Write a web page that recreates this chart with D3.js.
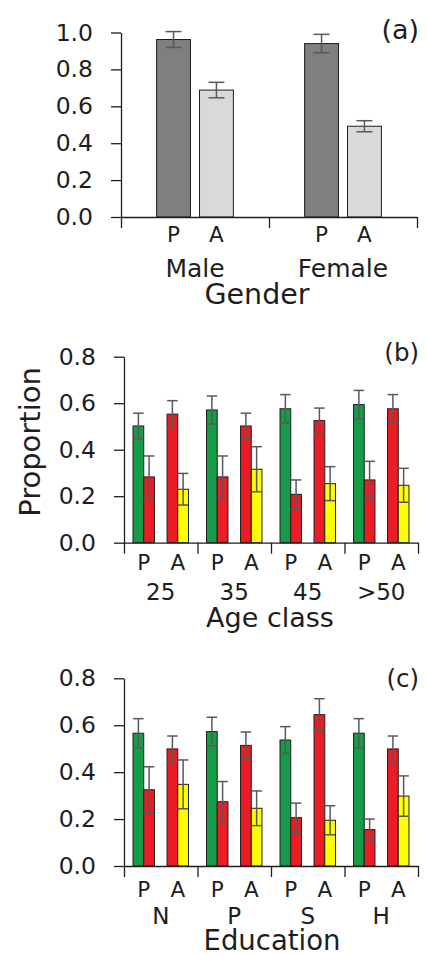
<!DOCTYPE html>
<html>
<head>
<meta charset="utf-8">
<script src="https://cdn.jsdelivr.net/npm/d3@7"></script>
<style>
  body { margin: 0; background: #fff; }
  svg { display: block; font-family: 'DejaVu Sans', sans-serif; }
</style>
</head>
<body>
<div id="chart"></div>
<script>
// (a) gender
const genderCats = ['Male', 'Female'];
const genderP = [0.962, 0.940];
const genderPErr = [0.043, 0.050];
const genderA = [0.688, 0.492];
const genderAErr = [0.042, 0.030];

// (b) age class
const ageCats = ['25', '35', '45', '>50'];
const ageGreenP = [0.502, 0.571, 0.576, 0.594];
const ageGreenPErr = [0.055, 0.060, 0.061, 0.061];
const ageRedP = [0.283, 0.283, 0.208, 0.270];
const ageRedPErr = [0.090, 0.090, 0.062, 0.080];
const ageRedA = [0.553, 0.502, 0.525, 0.576];
const ageRedAErr = [0.058, 0.055, 0.054, 0.061];
const ageYellowA = [0.230, 0.316, 0.254, 0.247];
const ageYellowAErr = [0.068, 0.097, 0.073, 0.073];

// (c) education
const eduCats = ['N', 'P', 'S', 'H'];
const eduGreenP = [0.566, 0.573, 0.537, 0.566];
const eduGreenPErr = [0.062, 0.061, 0.057, 0.062];
const eduRedP = [0.325, 0.274, 0.206, 0.155];
const eduRedPErr = [0.098, 0.086, 0.062, 0.045];
const eduRedA = [0.499, 0.514, 0.645, 0.499];
const eduRedAErr = [0.055, 0.057, 0.068, 0.055];
const eduYellowA = [0.348, 0.246, 0.195, 0.298];
const eduYellowAErr = [0.104, 0.074, 0.062, 0.086];

const subGroups = ['P', 'A'];
const yTicksA = [0, 0.2, 0.4, 0.6, 0.8, 1.0];
const yTicksBC = [0, 0.2, 0.4, 0.6, 0.8];

const GREEN = '#169b49';
const RED = '#ec1c24';
const YELLOW = '#ffff00';
const DARK = '#7f7f7f';
const LIGHT = '#d9d9d9';
const INK = '#1e1e1e';
const FONT = "'DejaVu Sans', sans-serif";

const svg = d3.select('#chart').append('svg')
  .attr('width', 427)
  .attr('height', 955);

function drawPanel(p) {
  const g = svg.append('g');
  const y = d3.scaleLinear().domain([0, p.yMax]).range([p.y0, p.yTop]);
  const x0 = d3.scaleBand().domain(p.cats).range([p.xLeft, p.xRight]);
  const x1 = d3.scaleBand().domain(subGroups).range([0, x0.bandwidth()])
    .paddingInner(p.padIn).paddingOuter(p.padOut);
  const x2 = d3.scaleBand().domain(d3.range(p.perGroup)).range([0, x1.bandwidth()]);
  const barX = (s, cat) => x0(cat) + x1(s.group) + x2(s.slot);

  // bars
  p.series.forEach((s) => {
    g.selectAll(null)
      .data(p.cats)
      .join('rect')
      .attr('x', (c) => barX(s, c))
      .attr('y', (c, i) => y(s.values[i]))
      .attr('width', x2.bandwidth())
      .attr('height', (c, i) => y(0) - y(s.values[i]))
      .attr('fill', s.color)
      .attr('stroke', INK)
      .attr('stroke-width', 1);
  });

  // error bars, drawn over the bars
  p.series.forEach((s) => {
    const eg = g.selectAll(null)
      .data(p.cats)
      .join('g')
      .attr('stroke', '#595959')
      .attr('stroke-width', 1.5);
    const cx = (c) => barX(s, c) + x2.bandwidth() / 2;
    eg.append('line')
      .attr('x1', cx).attr('x2', cx)
      .attr('y1', (c, i) => y(s.values[i] + s.errs[i]))
      .attr('y2', (c, i) => y(s.values[i] - s.errs[i]));
    [1, -1].forEach((sign) => {
      eg.append('line')
        .attr('x1', (c) => cx(c) - p.cap / 2)
        .attr('x2', (c) => cx(c) + p.cap / 2)
        .attr('y1', (c, i) => y(s.values[i] + sign * s.errs[i]))
        .attr('y2', (c, i) => y(s.values[i] + sign * s.errs[i]));
    });
  });

  // y axis
  const yAxis = g.append('g')
    .attr('transform', `translate(${p.xLeft},0)`)
    .call(d3.axisLeft(y).tickValues(p.yTicks).tickFormat(d3.format('.1f'))
      .tickSize(10).tickPadding(18).tickSizeOuter(0));
  yAxis.selectAll('path, line').attr('stroke', INK).attr('stroke-width', 1.3);
  yAxis.selectAll('text').attr('font-size', 23.5).attr('fill', INK)
    .attr('font-family', FONT);

  // x axis: ticks on the category boundaries
  const xb = d3.scaleLinear().domain([0, p.cats.length]).range([p.xLeft, p.xRight]);
  const xAxis = g.append('g')
    .attr('transform', `translate(0,${p.y0})`)
    .call(d3.axisBottom(xb).tickValues(d3.range(p.cats.length + 1))
      .tickFormat('').tickSize(11).tickSizeOuter(0));
  xAxis.selectAll('path, line').attr('stroke', INK).attr('stroke-width', 1.3);

  // P / A labels
  p.cats.forEach((c) => {
    subGroups.forEach((sg) => {
      g.append('text')
        .attr('x', x0(c) + x1(sg) + x1.bandwidth() / 2)
        .attr('y', p.y0 + p.subDy)
        .attr('text-anchor', 'middle')
        .attr('font-size', 21.5)
        .attr('fill', INK)
        .text(sg);
    });
  });

  g.selectAll(null)
    .data(p.cats)
    .join('text')
    .attr('x', (c) => x0(c) + x0.bandwidth() / 2)
    .attr('y', p.y0 + p.catDy)
    .attr('text-anchor', 'middle')
    .attr('font-size', p.catSize)
    .attr('fill', INK)
    .text((c) => c);

  g.append('text')
    .attr('x', p.titleX)
    .attr('y', p.y0 + p.titleDy)
    .attr('text-anchor', 'middle')
    .attr('font-size', p.titleSize)
    .attr('fill', INK)
    .text(p.title);

  g.append('text')
    .attr('x', 419)
    .attr('y', p.tagY)
    .attr('text-anchor', 'end')
    .attr('font-size', p.tagSize)
    .attr('fill', INK)
    .text(p.tag);
}

drawPanel({
  cats: genderCats,
  series: [
    { group: 'P', slot: 0, color: DARK, values: genderP, errs: genderPErr },
    { group: 'A', slot: 0, color: LIGHT, values: genderA, errs: genderAErr },
  ],
  perGroup: 1,
  yMax: 1.0, yTicks: yTicksA,
  y0: 217, yTop: 32.5,
  xLeft: 121, xRight: 417,
  padIn: 0.21, padOut: 0.83,
  cap: 16,
  subDy: 25, catDy: 60, catSize: 25,
  title: 'Gender', titleX: 257, titleDy: 87, titleSize: 28.5,
  tag: '(a)', tagY: 39, tagSize: 27,
});

drawPanel({
  cats: ageCats,
  series: [
    { group: 'P', slot: 0, color: GREEN, values: ageGreenP, errs: ageGreenPErr },
    { group: 'P', slot: 1, color: RED, values: ageRedP, errs: ageRedPErr },
    { group: 'A', slot: 0, color: RED, values: ageRedA, errs: ageRedAErr },
    { group: 'A', slot: 1, color: YELLOW, values: ageYellowA, errs: ageYellowAErr },
  ],
  perGroup: 2,
  yMax: 0.8, yTicks: yTicksBC,
  y0: 542.7, yTop: 356.7,
  xLeft: 124, xRight: 418,
  padIn: 0.37, padOut: 0.265,
  cap: 10.5,
  subDy: 27.5, catDy: 57.5, catSize: 23,
  title: 'Age class', titleX: 270, titleDy: 84.5, titleSize: 27,
  tag: '(b)', tagY: 361, tagSize: 24.5,
});

drawPanel({
  cats: eduCats,
  series: [
    { group: 'P', slot: 0, color: GREEN, values: eduGreenP, errs: eduGreenPErr },
    { group: 'P', slot: 1, color: RED, values: eduRedP, errs: eduRedPErr },
    { group: 'A', slot: 0, color: RED, values: eduRedA, errs: eduRedAErr },
    { group: 'A', slot: 1, color: YELLOW, values: eduYellowA, errs: eduYellowAErr },
  ],
  perGroup: 2,
  yMax: 0.8, yTicks: yTicksBC,
  y0: 866, yTop: 678.3,
  xLeft: 124, xRight: 418,
  padIn: 0.37, padOut: 0.265,
  cap: 10.5,
  subDy: 30.5, catDy: 57.5, catSize: 23,
  title: 'Education', titleX: 272, titleDy: 84, titleSize: 27.5,
  tag: '(c)', tagY: 687, tagSize: 24.5,
});

// shared y title
svg.append('text')
  .attr('transform', 'translate(40,442) rotate(-90)')
  .attr('text-anchor', 'middle')
  .attr('font-size', 29)
  .attr('fill', INK)
  .text('Proportion');
</script>
</body>
</html>
